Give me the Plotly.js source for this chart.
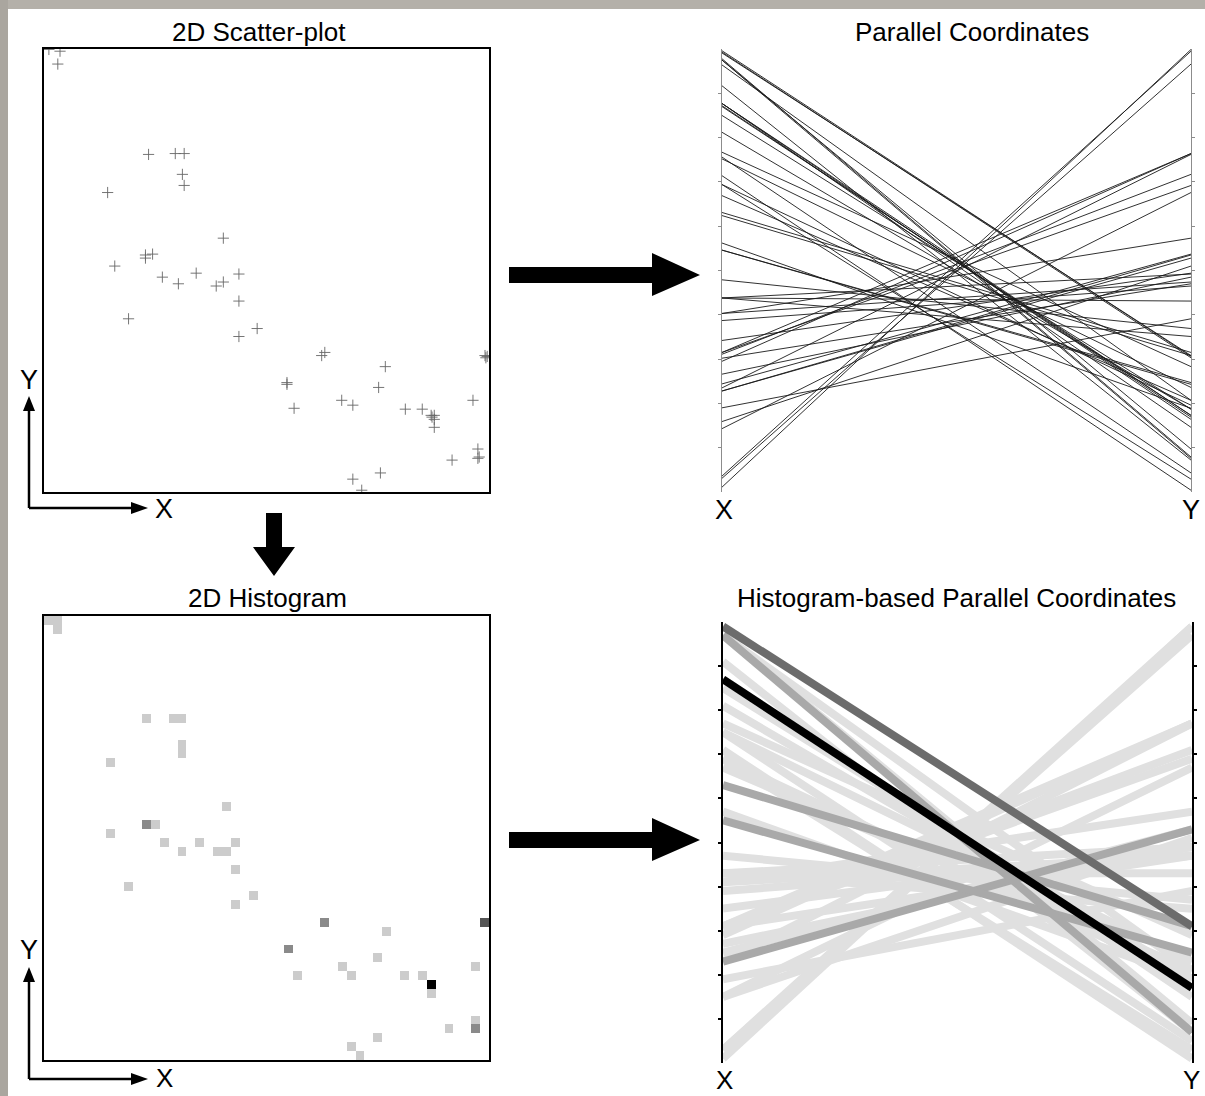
<!DOCTYPE html>
<html><head><meta charset="utf-8">
<script src="https://cdn.plot.ly/plotly-3.0.1.min.js"></script>
<style>html,body{margin:0;padding:0;background:#fff;}#chart{width:1205px;height:1096px;}</style>
</head><body><div id="chart"></div>
<script>
// ---- data: normalized X and Y of each record (0..1) ----
const pointX = [0.011,0.036,0.031,0.235,0.295,0.315,0.311,0.315,0.143,0.403,
  0.228,0.228,0.244,0.159,0.266,0.302,0.342,0.387,0.403,0.438,
  0.438,0.190,0.479,0.438,0.624,0.631,0.993,0.991,0.996,0.767,
  0.546,0.546,0.752,0.669,0.694,0.562,0.812,0.850,0.870,0.877,
  0.877,0.872,0.877,0.964,0.975,0.975,0.978,0.917,0.756,0.694,0.714];
const pointY = [0.999,0.995,0.966,0.762,0.764,0.764,0.717,0.692,0.676,0.573,
  0.535,0.528,0.537,0.510,0.485,0.470,0.494,0.465,0.474,0.492,
  0.431,0.391,0.369,0.351,0.308,0.315,0.303,0.308,0.306,0.283,
  0.247,0.243,0.236,0.207,0.196,0.189,0.187,0.187,0.173,0.173,
  0.164,0.169,0.146,0.207,0.097,0.076,0.079,0.072,0.043,0.029,0.004];
const panelTitles = ['2D Scatter-plot','Parallel Coordinates','2D Histogram','Histogram-based Parallel Coordinates'];
const axisNames = ['X','Y'];
const histBins = 50;
const histColors = ['#ffffff','#cccccc','#8a8a8a','#555555','#000000']; // count 0..4
const hpcColors = ['#e0e0e0','#a9a9a9','#6c6c6c','#000000'];           // count 1..4

// ---- helpers ----
const W = 1205, H = 1096;
const fx = p => p / W, fy = p => 1 - p / H;
const dom = b => ({x:[fx(b.l), fx(b.r)], y:[fy(b.b), fy(b.t)]});
const boxes = {
  sc:  {l:44, r:489, t:49, b:492},
  pc:  {l:722, r:1191, t:49, b:492},
  hi:  {l:44, r:489, t:616, b:1060},
  hpc: {l:723, r:1192, t:622, b:1063}
};
const FONT = 'Liberation Sans, Arial, sans-serif';

// ---- traces ----
const data = [];
// scatter
data.push({type:'scatter', mode:'markers', x:pointX, y:pointY, xaxis:'x', yaxis:'y',
  marker:{symbol:'cross-thin', size:8, color:'#666', line:{width:0.9, color:'#666'}}, hoverinfo:'skip'});
// parallel coordinates
const pcx = [], pcy = [];
pointX.forEach((v,i) => { pcx.push(0,1,null); pcy.push(v, pointY[i], null); });
data.push({type:'scatter', mode:'lines', x:pcx, y:pcy, xaxis:'x2', yaxis:'y2',
  line:{color:'#1a1a1a', width:0.9}, hoverinfo:'skip'});
// 2D histogram
const nC = histColors.length - 1;
const histScale = [];
histColors.forEach((c,k) => {
  const lo = Math.max(0,(k-0.5)/nC), hi = Math.min(1,(k+0.5)/nC);
  histScale.push([lo,c],[hi,c]);
});
data.push({type:'histogram2d', x:pointX, y:pointY, xaxis:'x3', yaxis:'y3',
  xbins:{start:0,end:1,size:1/histBins}, ybins:{start:0,end:1,size:1/histBins},
  zmin:0, zmax:nC, zauto:false, colorscale:histScale, showscale:false, hoverinfo:'skip'});
// histogram-based parallel coordinates
const counts = {};
pointX.forEach((v,i) => {
  const cx = Math.min(histBins-1, Math.floor(v*histBins));
  const cy = Math.min(histBins-1, Math.floor(pointY[i]*histBins));
  const k = cx + ',' + cy;
  counts[k] = (counts[k]||0) + 1;
});
for (let c = 1; c <= hpcColors.length; c++) {
  const xs = [], ys = [];
  Object.keys(counts).forEach(k => {
    if (counts[k] !== c) return;
    const [cx, cy] = k.split(',').map(Number);
    xs.push(0,1,null); ys.push((cx+0.5)/histBins, (cy+0.5)/histBins, null);
  });
  if (xs.length) data.push({type:'scatter', mode:'lines', x:xs, y:ys, xaxis:'x4', yaxis:'y4',
    line:{color:hpcColors[c-1], width:8}, hoverinfo:'skip'});
}

// ---- axes ----
const tv = [0.1,0.2,0.3,0.4,0.5,0.6,0.7,0.8,0.9];
const boxAx = d => ({domain:d, range:[0,1], showline:true, mirror:true, linecolor:'#000', linewidth:2,
  ticks:'', showticklabels:false, showgrid:false, zeroline:false, fixedrange:true});
const hidAx = (d, anchor) => ({domain:d, range:[0,1], visible:false, fixedrange:true, anchor});
const pcY = (d, anchor, col, lw, tl) => ({domain:d, range:[0,1], anchor, showline:true, mirror:'ticks',
  linecolor:col, linewidth:lw, ticks:'outside', ticklen:tl, tickwidth:lw, tickcolor:col, tickvals:tv,
  showticklabels:false, showgrid:false, zeroline:false, fixedrange:true});

const layout = {
  width:W, height:H, margin:{l:0,r:0,t:0,b:0}, paper_bgcolor:'#fff', plot_bgcolor:'rgba(0,0,0,0)',
  showlegend:false, font:{family:FONT, color:'#000'},
  xaxis: Object.assign(boxAx(dom(boxes.sc).x), {anchor:'y'}),
  yaxis: Object.assign(boxAx(dom(boxes.sc).y), {anchor:'x'}),
  xaxis2: hidAx(dom(boxes.pc).x, 'y2'),
  yaxis2: pcY(dom(boxes.pc).y, 'x2', '#8c8c8c', 1, 3),
  xaxis3: Object.assign(boxAx(dom(boxes.hi).x), {anchor:'y3'}),
  yaxis3: Object.assign(boxAx(dom(boxes.hi).y), {anchor:'x3'}),
  xaxis4: hidAx(dom(boxes.hpc).x, 'y4'),
  yaxis4: pcY(dom(boxes.hpc).y, 'x4', '#000', 2, 3),
  shapes: [], annotations: []
};

// ---- decorations ----
const path = pts => 'M ' + pts.map(p => fx(p[0]) + ',' + fy(p[1])).join(' L ') + ' Z';
const poly = pts => ({type:'path', xref:'paper', yref:'paper', path:path(pts), fillcolor:'#000', line:{width:0}});
const seg = (x0,y0,x1,y1,w) => ({type:'line', xref:'paper', yref:'paper', x0:fx(x0), y0:fy(y0), x1:fx(x1), y1:fy(y1), line:{color:'#000', width:w}});
const S = layout.shapes;
S.push({type:'rect', xref:'paper', yref:'paper', x0:0, x1:1, y0:fy(9), y1:1, fillcolor:'#b4b0a9', line:{width:0}});
S.push({type:'rect', xref:'paper', yref:'paper', x0:0, x1:fx(8), y0:0, y1:1, fillcolor:'#aaa69f', line:{width:0}});
// small axis arrows
[[508,396],[1079,967]].forEach(([cy, tip]) => {
  S.push(seg(29, cy, 29, tip+14, 2.5));
  S.push(seg(29, cy, 133, cy, 2.5));
  S.push(poly([[23,tip+15],[35,tip+15],[29,tip]]));
  S.push(poly([[131,cy-6],[131,cy+6],[148,cy]]));
});
// big arrows
S.push(poly([[266,513],[282,513],[282,547],[295,547],[274,576],[253,547],[266,547]]));
[275, 840].forEach(cy => {
  S.push(poly([[509,cy-8],[652,cy-8],[652,cy-22],[700,cy],[652,cy+21],[652,cy+8],[509,cy+8]]));
});

const A = layout.annotations;
const txt = (t, x, y, size) => A.push({text:t, x:fx(x), y:fy(y), xref:'paper', yref:'paper',
  xanchor:'center', yanchor:'middle', showarrow:false, font:{family:FONT, size:size, color:'#000'}});
txt(panelTitles[0], 259, 32, 26);
txt(panelTitles[1], 972, 32, 26);
txt(panelTitles[2], 267, 598, 26);
txt(panelTitles[3], 956, 598, 26);
txt(axisNames[1], 29, 380, 27); txt(axisNames[0], 164, 509, 27);
txt(axisNames[1], 29, 950, 27); txt(axisNames[0], 164, 1078, 26);
txt(axisNames[0], 724, 510, 27); txt(axisNames[1], 1191, 510, 27);
txt(axisNames[0], 724, 1080, 26); txt(axisNames[1], 1191, 1080, 26);

Plotly.newPlot('chart', data, layout, {staticPlot:true, displayModeBar:false});
</script></body></html>
